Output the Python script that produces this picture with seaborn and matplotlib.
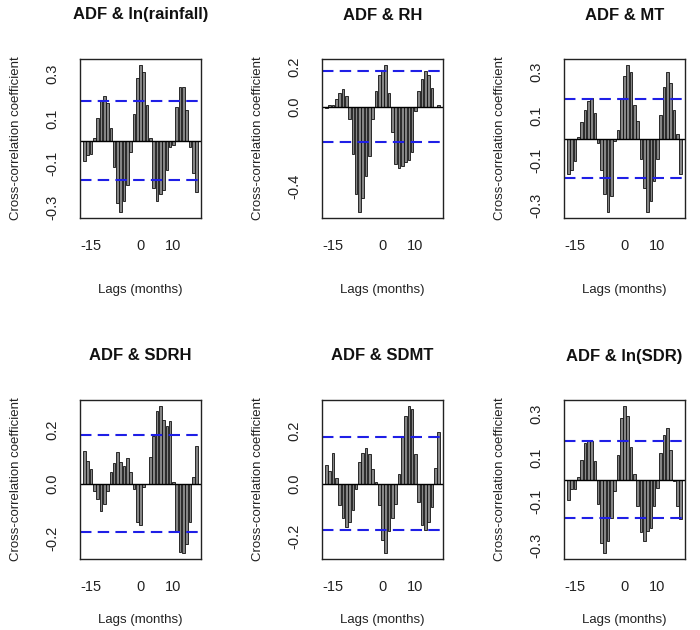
import numpy as np
import pandas as pd
import seaborn as sns
import matplotlib.pyplot as plt

# cross-correlations of ADF with each climate series, lags -17..17 months
LAGS = list(range(-17, 18))
RAINFALL = [-0.09, -0.065, -0.06, 0.012, 0.10, 0.18, 0.20,
            0.17, 0.057, -0.12, -0.28, -0.32, -0.27, -0.20,
            -0.05, 0.12, 0.28, 0.34, 0.31, 0.16, 0.012,
            -0.21, -0.27, -0.24, -0.22, -0.13, -0.03, -0.02,
            0.15, 0.24, 0.24, 0.14, -0.03, -0.145, -0.23]
RH = [-0.007, 0.007, 0.01, 0.04, 0.067, 0.087, 0.055,
      -0.06, -0.24, -0.44, -0.53, -0.46, -0.35, -0.25,
      -0.06, 0.08, 0.16, 0.18, 0.21, 0.067, -0.125,
      -0.29, -0.31, -0.30, -0.28, -0.27, -0.23, -0.02,
      0.08, 0.14, 0.18, 0.16, 0.095, 0.0, 0.008]
MT = [-0.16, -0.14, -0.10, 0.005, 0.075, 0.13, 0.17,
      0.18, 0.115, -0.018, -0.14, -0.25, -0.33, -0.26,
      -0.01, 0.04, 0.18, 0.28, 0.33, 0.30, 0.15,
      0.078, -0.09, -0.22, -0.33, -0.28, -0.19, -0.09,
      0.105, 0.23, 0.30, 0.25, 0.13, 0.02, -0.16]
SDRH = [0.12, 0.085, 0.054, -0.027, -0.057, -0.10, -0.075,
        -0.027, 0.042, 0.078, 0.118, 0.082, 0.066, 0.094,
        0.042, -0.02, -0.14, -0.15, -0.01, 0.0, 0.1,
        0.176, 0.27, 0.287, 0.235, 0.214, 0.23, 0.006,
        -0.175, -0.25, -0.255, -0.22, -0.14, 0.025, 0.14]
SDMT = [0.07, 0.047, 0.116, 0.023, -0.08, -0.13, -0.165,
        -0.145, -0.10, -0.02, 0.082, 0.116, 0.137, 0.114,
        0.057, 0.006, -0.082, -0.215, -0.265, -0.18, -0.13,
        -0.076, 0.038, 0.18, 0.26, 0.297, 0.285, 0.114,
        -0.07, -0.158, -0.177, -0.145, -0.089, 0.06, 0.196]
LN_SDR = [-0.095, -0.045, -0.045, 0.012, 0.09, 0.167, 0.18,
          0.174, 0.083, -0.114, -0.29, -0.336, -0.28, -0.174,
          -0.053, 0.114, 0.28, 0.336, 0.288, 0.15, 0.023,
          -0.12, -0.24, -0.28, -0.235, -0.22, -0.12, -0.038,
          0.12, 0.204, 0.235, 0.136, -0.008, -0.12, -0.18]
CI = 0.178

TITLES = ["ADF & ln(rainfall)", "ADF & RH", "ADF & MT",
          "ADF & SDRH", "ADF & SDMT", "ADF & ln(SDR)"]
SERIES = [RAINFALL, RH, MT, SDRH, SDMT, LN_SDR]
Y_TICKS = [
    ([-0.3, -0.2, -0.1, 0.0, 0.1, 0.2, 0.3], ["-0.3", "", "-0.1", "", "0.1", "", "0.3"]),
    ([-0.4, -0.2, 0.0, 0.2], ["-0.4", "", "0.0", "0.2"]),
    ([-0.3, -0.2, -0.1, 0.0, 0.1, 0.2, 0.3], ["-0.3", "", "-0.1", "", "0.1", "", "0.3"]),
    ([-0.2, -0.1, 0.0, 0.1, 0.2, 0.3], ["-0.2", "", "0.0", "", "0.2", ""]),
    ([-0.2, -0.1, 0.0, 0.1, 0.2, 0.3], ["-0.2", "", "0.0", "", "0.2", ""]),
    ([-0.3, -0.2, -0.1, 0.0, 0.1, 0.2, 0.3], ["-0.3", "", "-0.1", "", "0.1", "", "0.3"]),
]
X_TICKS = [-15, -10, -5, 0, 5, 10, 15]
X_LABELS = ["-15", "", "", "0", "", "10", ""]

W, H = 700, 630
BOX_LEFT = [80, 322, 564]
BOX_TOP = [59, 400]
BOX_W, BOX_H = 121, 159
# the bottom row's x label sits right at the figure's lower edge
XLAB_OFFSET = [72, 61]


def draw_panel(ax, values, title, yticks, xlab_off):
    df = pd.DataFrame({"lag": LAGS, "ccf": values})
    sns.barplot(data=df, x="lag", y="ccf", native_scale=True, ax=ax,
                color="#858585", saturation=1, edgecolor="#111111",
                linewidth=0.6, width=0.8, errorbar=None)
    ax.axhline(0, color="black", linewidth=1.0)
    for c in (CI, -CI):
        ax.axhline(c, color="#1f1fe6", linewidth=1.5, linestyle=(0, (5.5, 3)))

    lo = min(min(values), -CI)
    hi = max(max(values), CI)
    pad = (hi - lo) * 0.04
    ax.set_ylim(lo - pad, hi + pad)
    ax.set_xlim(-17 - 34 * 0.04, 17 + 34 * 0.04)

    ax.set_xticks(X_TICKS)
    ax.set_xticklabels(X_LABELS)
    ax.set_yticks(yticks[0])
    ax.set_yticklabels(yticks[1], rotation=90, va="center")
    ax.tick_params(axis="both", length=6, width=1, color="#222222",
                   labelsize=10.5, labelcolor="#222222", pad=9)
    ax.set(xlabel="", ylabel="")
    for s in ax.spines.values():
        s.set_color("#222222")
        s.set_linewidth(1.0)

    ax.text(0.5, 1 + 44 / BOX_H, title, transform=ax.transAxes,
            ha="center", va="center", fontsize=12, fontweight="bold",
            color="#111111")
    ax.text(-64 / BOX_W, 0.5, "Cross-correlation coefficient",
            transform=ax.transAxes, rotation=90, ha="center", va="center",
            fontsize=9.5, color="#222222")
    ax.text(0.5, -xlab_off / BOX_H, "Lags (months)", transform=ax.transAxes,
            ha="center", va="center", fontsize=9.5, color="#222222")


def main():
    sns.set_theme(style="white")
    plt.rcParams["font.family"] = ["Liberation Sans", "DejaVu Sans"]
    fig = plt.figure(figsize=(W / 100, H / 100), dpi=100)
    fig.set_facecolor("white")
    for i, (values, title, yt) in enumerate(zip(SERIES, TITLES, Y_TICKS)):
        row, col = divmod(i, 3)
        left = BOX_LEFT[col] / W
        bottom = 1 - (BOX_TOP[row] + BOX_H) / H
        ax = fig.add_axes([left, bottom, BOX_W / W, BOX_H / H])
        draw_panel(ax, values, title, yt, XLAB_OFFSET[row])
    fig.savefig("out.png", dpi=100)


if __name__ == "__main__":
    main()
